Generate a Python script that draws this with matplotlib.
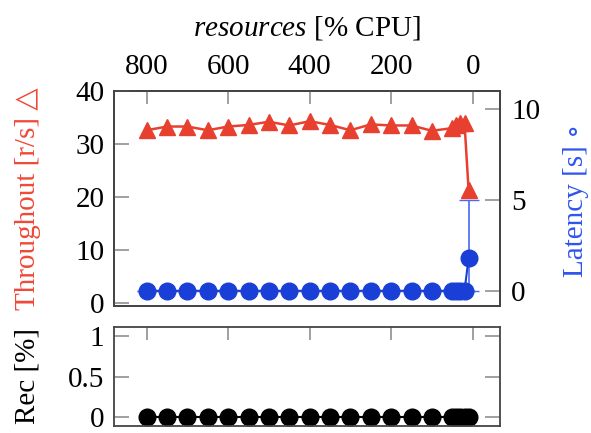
import numpy as np
import matplotlib.pyplot as plt

plt.rcParams['font.family'] = ['Liberation Serif', 'DejaVu Serif', 'DejaVu Sans']
plt.rcParams['mathtext.fontset'] = 'custom'
plt.rcParams['mathtext.it'] = 'Liberation Serif:italic'
plt.rcParams['mathtext.rm'] = 'Liberation Serif'

# ======= DADOS =======
cpu = [800, 750, 700, 650, 600, 550, 500, 450, 400, 350, 300, 250, 200, 150, 100, 50, 40, 30, 20, 10]
throughput = [32.6, 33.3, 33.3, 32.6, 33.3, 33.6, 34.2, 33.5, 34.3, 33.6, 32.6, 33.7, 33.5, 33.5,
              32.5, 33.0, 33.6, 33.9, 33.9, 21.3]
latency = [0, 0, 0, 0, 0, 0, 0, 0, 0, 0, 0, 0, 0, 0, 0, 0, 0, 0, 0, 1.8]
lat_err_lo = [0] * 19 + [1.8]
lat_err_hi = [0] * 19 + [3.2]
rec = [0] * 20

RED = '#e8402f'
BLUE = '#1a3fd6'
FS = 21

fig = plt.figure(figsize=(5.91, 4.33), dpi=100)
ax = fig.add_axes([0.193, 0.293, 0.653, 0.497])
ax2 = ax.twinx()
axb = fig.add_axes([0.193, 0.017, 0.653, 0.228])

# ======= PLOT SUPERIOR =======
ax.plot(cpu, throughput, '-^', color=RED, markersize=11, linewidth=1.8, zorder=5)
ax.set_zorder(ax2.get_zorder() + 1)
ax.patch.set_visible(False)
ax2.errorbar(cpu, latency, yerr=[lat_err_lo, lat_err_hi], fmt='-o', color=BLUE,
             ecolor='#4a68f0', elinewidth=1.2, capsize=7, markersize=12, linewidth=1.5)

ax.set_xlim(880, -67)
ax.set_ylim(-0.5, 40)
ax2.set_ylim(-0.84, 10.97)
ax.set_yticks([0, 10, 20, 30, 40])
ax2.set_yticks([0, 5, 10])
ax.set_xticks([800, 600, 400, 200, 0])
ax.xaxis.tick_top()
ax.xaxis.set_label_position('top')
ax.set_xlabel(r'$\mathit{resources}$ [% CPU]', fontsize=FS, labelpad=13)
ax.set_ylabel('Throughout [r/s] △', color='#f04838', fontsize=FS)
ax.yaxis.set_label_coords(-0.19, 0.5)
ax2.set_ylabel('Latency [s] ∘', color='#2f55ee', fontsize=FS)
ax2.yaxis.set_label_coords(1.162, 0.49)

ax.tick_params(axis='x', direction='in', length=9, width=1.3, color='#999999',
               labelsize=FS, pad=8)
ax.tick_params(axis='y', direction='in', length=11, width=1.3, color='#999999',
               labelsize=FS, pad=7)
ax2.tick_params(axis='y', direction='in', length=11, width=1.3, color='#999999',
                labelsize=FS, pad=8)

# ======= PLOT INFERIOR =======
axb.plot(cpu, rec, '-o', color='black', markersize=12, linewidth=1.5, clip_on=False)
axb.set_xlim(880, -67)
axb.set_ylim(-0.1, 1.11)
axb.set_yticks([0, 0.5, 1])
axb.set_yticklabels(['0', '0.5', '1'])
axb.set_xticks([800, 600, 400, 200, 0])
axb.xaxis.tick_top()
axb.tick_params(axis='x', labeltop=False, direction='in', length=9, width=1.3, color='#999999')
axb.tick_params(axis='y', direction='in', length=11, width=1.3, color='#999999',
                labelsize=FS, pad=7, right=True)
axb.set_ylabel('Rec [%]', fontsize=FS)
axb.yaxis.set_label_coords(-0.19, 0.5)

for a in (ax, ax2, axb):
    for s in a.spines.values():
        s.set_color('#444444')
        s.set_linewidth(1.3)

fig.savefig('out.png', dpi=100)
